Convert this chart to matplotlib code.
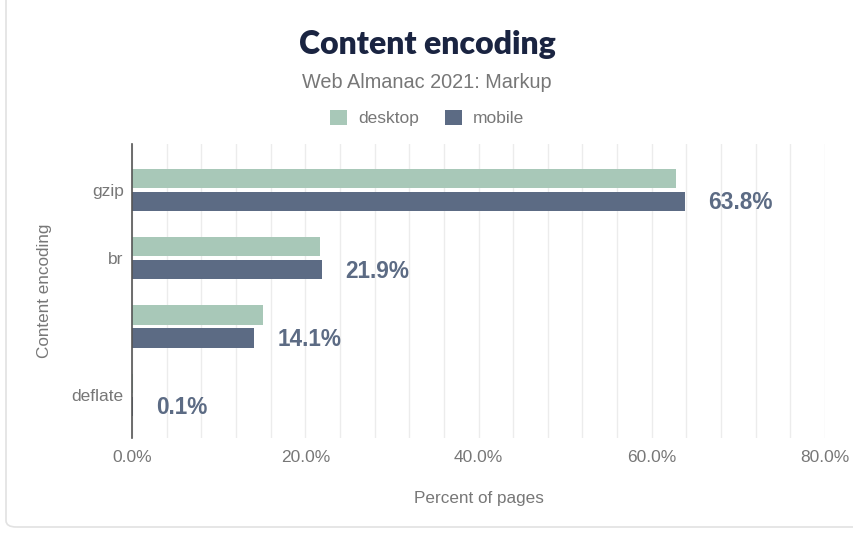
import matplotlib.pyplot as plt
from matplotlib.patches import FancyBboxPatch
from matplotlib.ticker import MultipleLocator, FuncFormatter

# data
encodings = ['gzip', 'br', '', 'deflate']
desktop = [62.8, 21.7, 15.1, 0.1]
mobile = [63.8, 21.9, 14.1, 0.1]

desk_color = '#a8c8b8'
mob_color = '#5c6b84'
grey = '#777777'

plt.rcParams['font.family'] = ['Liberation Sans', 'DejaVu Sans']

fig = plt.figure(figsize=(8.54, 5.33), dpi=100)
fig.patch.set_facecolor('white')

# card border
card = FancyBboxPatch((6 / 854, 6 / 533), 870 / 854, 540 / 533,
                      boxstyle='round,pad=0,rounding_size=0.012',
                      transform=fig.transFigure, facecolor='none',
                      edgecolor='#e2e2e2', linewidth=1.2)
fig.patches.append(card)

ax = fig.add_axes([132 / 854, 1 - 438 / 533, (825 - 132) / 854, (438 - 144) / 533])

ypos = list(range(len(encodings)))
h = 0.28
off = 0.168
ax.barh([y - off for y in ypos], desktop, height=h, color=desk_color, label='desktop', zorder=3)
ax.barh([y + off for y in ypos], mobile, height=h, color=mob_color, label='mobile', zorder=3)

for y, v in zip(ypos, mobile):
    ax.annotate(f'{v:.1f}%', xy=(v, y + off), xytext=(17, -1), textcoords='offset points',
                ha='left', va='center', fontsize=16.3, fontweight='bold', color=mob_color)

ax.set_xlim(0, 80)
ax.set_ylim(3.63, -0.67)
ax.set_yticks(ypos)
ax.set_yticklabels(encodings)
ax.xaxis.set_major_locator(MultipleLocator(20))
ax.xaxis.set_minor_locator(MultipleLocator(4))
ax.xaxis.set_major_formatter(FuncFormatter(lambda x, p: f'{x:.1f}%'))
ax.grid(True, axis='x', which='both', color='#ececec', linewidth=1, zorder=0)
ax.tick_params(axis='both', which='both', length=0, labelsize=12.5, labelcolor=grey)
ax.tick_params(axis='x', pad=9)
ax.tick_params(axis='y', pad=6)

for s in ['top', 'right', 'bottom']:
    ax.spines[s].set_visible(False)
ax.spines['left'].set_color('#555555')
ax.spines['left'].set_linewidth(1.2)
ax.spines['left'].set_zorder(4)

ax.set_xlabel('Percent of pages', fontsize=12.3, color=grey, labelpad=18)
ax.set_ylabel('Content encoding', fontsize=12.3, color=grey, labelpad=14)

fig.text(0.5, 1 - 45 / 533, 'Content encoding', ha='center', va='center',
         fontsize=23, fontweight='heavy', color='#1a2441', family=['Lato', 'DejaVu Sans'])
fig.text(0.5, 1 - 82 / 533, 'Web Almanac 2021: Markup', ha='center', va='center',
         fontsize=14.3, color=grey)
fig.legend(loc='center', bbox_to_anchor=(0.5, 1 - 118 / 533), ncol=2, frameon=False,
           fontsize=12.5, labelcolor=grey, handlelength=1.0, handleheight=1.0,
           columnspacing=1.5, handletextpad=0.6)

plt.savefig('out.png', dpi=100)
plt.close()
